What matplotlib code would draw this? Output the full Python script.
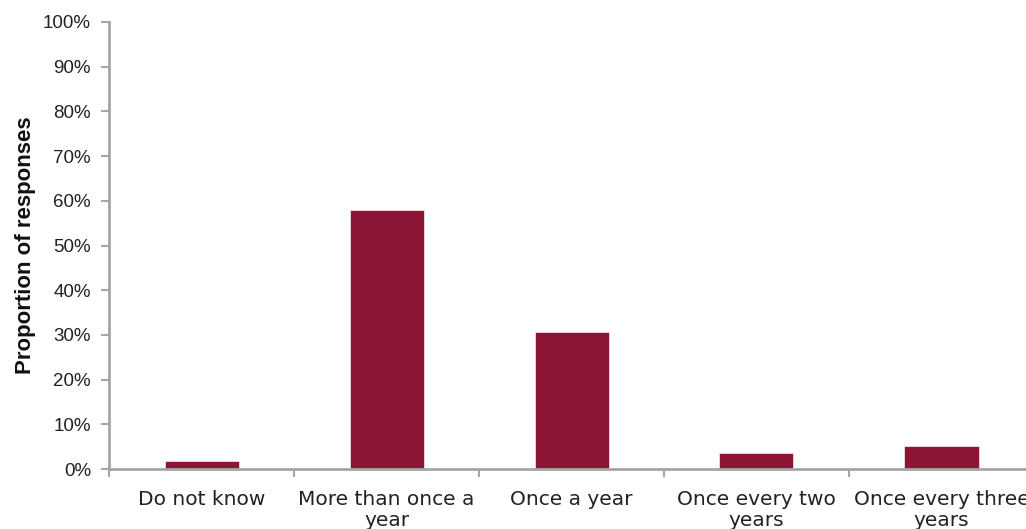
import matplotlib
matplotlib.use("Agg")
import matplotlib.pyplot as plt
from matplotlib.ticker import PercentFormatter, FixedLocator
import numpy as np

categories = ["Do not know", "More than once a\nyear", "Once a year",
              "Once every two\nyears", "Once every three\nyears"]
values = [1.7, 57.9, 30.6, 3.5, 5.2]
yticks = list(range(0, 101, 10))

bar_color = "#8c1536"
axis_color = "#a6a6a6"

fig = plt.figure(figsize=(10.26, 5.29), dpi=100)
ax = fig.add_axes([109/1026, 60/529, 1 - 109/1026, 447/529])

x = np.arange(len(categories))
ax.bar(x, values, width=0.4, color=bar_color, edgecolor="#f0dde2", linewidth=0.6, zorder=2)

cat_w = 185.0
ax.set_xlim(-0.5, -0.5 + (1026 - 109) / cat_w)
ax.set_ylim(0, 100)
ax.set_yticks(yticks)
ax.yaxis.set_major_formatter(PercentFormatter(decimals=0))
ax.set_xticks(x)
ax.set_xticklabels(categories, family="DejaVu Sans",
                   fontsize=14.5, color="#222222", linespacing=1.15)
ax.xaxis.set_minor_locator(FixedLocator(np.arange(-0.5, 5.0, 1.0)))
ax.tick_params(axis="x", which="major", length=0, pad=15)
ax.tick_params(axis="x", which="minor", length=6, width=1.5, color=axis_color, direction="out")
ax.tick_params(axis="y", length=6, width=1.5, color=axis_color, direction="out",
               labelsize=13.5, labelcolor="#222222", pad=7)
for lbl in ax.get_yticklabels():
    lbl.set_family("Liberation Sans")

for s in ["top", "right"]:
    ax.spines[s].set_visible(False)
for s in ["left", "bottom"]:
    ax.spines[s].set_color(axis_color)
    ax.spines[s].set_linewidth(2)

ax.set_ylabel("Proportion of responses", family="Liberation Sans", fontweight="bold",
              fontsize=16, color="#111111", labelpad=5)

fig.savefig("out.png", dpi=100)
